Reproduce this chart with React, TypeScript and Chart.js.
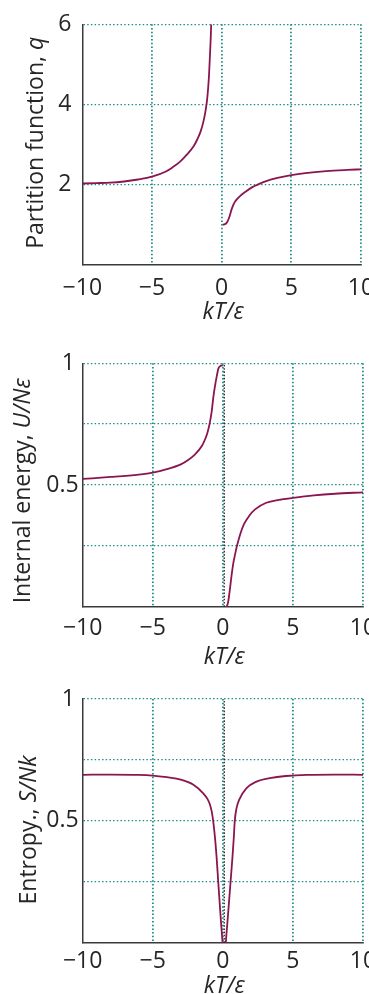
import React, { useEffect, useRef } from 'react';
import { Chart, registerables } from 'chart.js';

Chart.register(...registerables);

const FONT = '"Open Sans", "Liberation Sans", sans-serif';
const TEAL = '#1f8f87';
const CURVE = '#8a1550';
const AXIS = '#3a3a3a';
const TEXT = '#262626';
const TICK_SIZE = 23;
const TITLE_SIZE = 23;

// ---- shared x axis ----
const xTickValues = [-10, -5, 0, 5, 10];
const xTickLabels = ['\u221210', '\u22125', '0', '5', '10'];
const xTitle = [{ text: 'kT/\u03b5', italic: true }];

// ---- panel 1: partition function ----
const qTickValues = [0, 2, 4, 6];
const qTickLabels = ['', '2', '4', '6'];
const qNegX = [-10, -9, -8, -7, -6, -5, -4, -3.5, -3, -2.5, -2, -1.75, -1.5, -1.3, -1.15, -1.05, -0.97, -0.9, -0.84, -0.79, -0.75];
const qNegY = [2.02, 2.03, 2.04, 2.07, 2.12, 2.19, 2.32, 2.43, 2.56, 2.74, 2.96, 3.12, 3.33, 3.58, 3.85, 4.1, 4.4, 4.77, 5.22, 5.6, 6.0];
const qPosX = [0.07, 0.2, 0.32, 0.42, 0.52, 0.62, 0.72, 0.83, 0.95, 1.1, 1.3, 1.7, 2.2, 2.7, 3.2, 4.0, 5.0, 6.0, 7.5, 9.0, 10.0];
const qPosY = [0.99, 1.0, 1.02, 1.07, 1.15, 1.26, 1.38, 1.48, 1.56, 1.63, 1.7, 1.81, 1.93, 2.01, 2.08, 2.16, 2.23, 2.28, 2.33, 2.36, 2.375];
const qTitle = [{ text: 'Partition function, ', italic: false }, { text: 'q', italic: true }];

// ---- panel 2: internal energy ----
const fracTickValues = [0, 0.25, 0.5, 0.75, 1];
const fracTickLabels = ['', '', '0.5', '', '1\u2009'];
const uNegX = [-10, -8, -6, -5, -4, -3, -2.5, -2, -1.5, -1.25, -1.1, -0.95, -0.8, -0.68, -0.55, -0.44, -0.32, -0.15, 0.0];
const uNegY = [0.525, 0.533, 0.543, 0.551, 0.565, 0.585, 0.602, 0.625, 0.66, 0.69, 0.715, 0.75, 0.8, 0.86, 0.91, 0.945, 0.978, 0.99, 0.992];
const uPosX = [0.28, 0.38, 0.5, 0.62, 0.75, 0.88, 1.0, 1.25, 1.5, 1.9, 2.3, 3.1, 4.0, 5.0, 6.5, 8.0, 10.0];
const uPosY = [0.0, 0.02, 0.07, 0.128, 0.18, 0.217, 0.248, 0.3, 0.338, 0.375, 0.4, 0.427, 0.439, 0.447, 0.457, 0.464, 0.47];
const uTitle = [{ text: 'Internal energy, ', italic: false }, { text: 'U/N\u03b5', italic: true }];

// ---- panel 3: entropy ----
const sNegX = [-10, -8, -6, -5, -4, -3, -2.1, -1.4, -1.1, -0.93, -0.8, -0.69, -0.56, -0.45, -0.33, -0.16, -0.06, -0.02];
const sNegY = [0.689, 0.69, 0.689, 0.686, 0.679, 0.669, 0.648, 0.613, 0.59, 0.568, 0.54, 0.5, 0.43, 0.354, 0.25, 0.108, 0.03, 0.0];
const sPosX = [0.21, 0.25, 0.36, 0.55, 0.69, 0.78, 0.85, 0.97, 1.16, 1.69, 2.4, 3.35, 4.5, 6, 8, 10];
const sPosY = [0.0, 0.03, 0.108, 0.25, 0.354, 0.43, 0.5, 0.55, 0.586, 0.634, 0.661, 0.675, 0.684, 0.689, 0.69, 0.689];
const sTitle = [{ text: 'Entropy., ', italic: false }, { text: 'S/Nk', italic: true }];

// dotted marker line just right of zero (panels 2 and 3)
const zeroLineX = [0.1, 0.1];
const zeroLineY = [0, 1];

type Seg = { text: string; italic: boolean };

function drawSegs(ctx: CanvasRenderingContext2D, segs: Seg[], cx: number, y: number) {
  const fonts = segs.map(s => `${s.italic ? 'italic ' : ''}${TITLE_SIZE}px ${FONT}`);
  const widths = segs.map((s, i) => { ctx.font = fonts[i]; return ctx.measureText(s.text).width; });
  const total = widths.reduce((a, b) => a + b, 0);
  let x = cx - total / 2;
  segs.forEach((s, i) => {
    ctx.font = fonts[i];
    ctx.fillText(s.text, x, y);
    x += widths[i];
  });
}

function curve(xs: number[], ys: number[], color = CURVE, width = 1.8, dash: number[] = []) {
  return {
    data: xs.map((x, i) => ({ x, y: ys[i] })),
    showLine: true,
    borderColor: color,
    borderWidth: width,
    borderDash: dash,
    pointRadius: 0,
    cubicInterpolationMode: 'monotone',
    fill: false,
  };
}

type Panel = {
  top: number; height: number;
  padTop: number; padRight: number; yWidth: number; xHeight: number;
  xTickPad: number; yTickPad: number;
  yMax: number; yStep: number; yValues: number[]; yLabels: string[];
  datasets: any[];
  yTitle: Seg[]; yTitleX: number; yTitleY: number;
  xTitleY: number; xTitleDx: number;
};

const panels: Panel[] = [
  {
    top: 0, height: 330, padTop: 24.3, padRight: 8, yWidth: 82.3, xHeight: 65.7,
    xTickPad: 10, yTickPad: 11, yMax: 6, yStep: 2, yValues: qTickValues, yLabels: qTickLabels,
    datasets: [curve(qNegX, qNegY), curve(qPosX, qPosY)],
    yTitle: qTitle, yTitleX: 43.3, yTitleY: 142.8, xTitleY: 319, xTitleDx: 1.5,
  },
  {
    top: 330, height: 345, padTop: 33.3, padRight: 6, yWidth: 82.7, xHeight: 68.3,
    xTickPad: 7.6, yTickPad: 4, yMax: 1, yStep: 0.25, yValues: fracTickValues, yLabels: fracTickLabels,
    datasets: [curve(zeroLineX, zeroLineY, '#222', 1.3, [1.6, 1.6]), curve(uNegX, uNegY), curve(uPosX, uPosY)],
    yTitle: uTitle, yTitleX: 29.7, yTitleY: 160.8, xTitleY: 334, xTitleDx: 1.5,
  },
  {
    top: 660, height: 334, padTop: 39, padRight: 6, yWidth: 82.7, xHeight: 51.3,
    xTickPad: 5, yTickPad: 4, yMax: 1, yStep: 0.25, yValues: fracTickValues, yLabels: fracTickLabels,
    datasets: [curve(zeroLineX, zeroLineY, '#222', 1.3, [1.6, 1.6]), curve(sNegX, sNegY), curve(sPosX, sPosY)],
    yTitle: sTitle, yTitleX: 36.4, yTitleY: 170, xTitleY: 333, xTitleDx: 1.5,
  },
];

function labelFor(values: number[], labels: string[], v: number) {
  const i = values.findIndex(t => Math.abs(t - v) < 1e-9);
  return i >= 0 ? labels[i] : '';
}

function makeConfig(p: Panel): any {
  const titlePlugin = {
    id: 'axisTitles',
    afterDraw(chart: any) {
      const ctx: CanvasRenderingContext2D = chart.ctx;
      const ca = chart.chartArea;
      ctx.save();
      ctx.fillStyle = TEXT;
      ctx.textBaseline = 'alphabetic';
      ctx.textAlign = 'left';
      drawSegs(ctx, xTitle, (ca.left + ca.right) / 2 + p.xTitleDx, p.xTitleY);
      ctx.translate(p.yTitleX, p.yTitleY);
      ctx.rotate(-Math.PI / 2);
      drawSegs(ctx, p.yTitle, 0, 0);
      ctx.restore();
    },
  };
  const tickFont = { family: FONT, size: TICK_SIZE };
  return {
    type: 'scatter',
    data: { datasets: p.datasets },
    options: {
      animation: false,
      responsive: false,
      maintainAspectRatio: false,
      events: [],
      layout: { padding: { left: 0, right: p.padRight, top: p.padTop, bottom: 0 } },
      plugins: { legend: { display: false }, tooltip: { enabled: false } },
      scales: {
        x: {
          type: 'linear', min: -10, max: 10,
          afterFit: (s: any) => { s.height = p.xHeight; s.paddingLeft = 0; s.paddingRight = 0; },
          ticks: {
            stepSize: 5, padding: p.xTickPad, font: tickFont, color: TEXT, maxRotation: 0, autoSkip: false,
            callback: (v: number) => labelFor(xTickValues, xTickLabels, v),
          },
          grid: {
            drawTicks: false,
            color: (c: any) => (c.tick && c.tick.value === -10 ? 'rgba(0,0,0,0)' : TEAL),
            lineWidth: 1.8,
          },
          border: { display: true, color: AXIS, width: 1.5, dash: [1.5, 2.2] },
        },
        y: {
          type: 'linear', min: 0, max: p.yMax,
          afterFit: (s: any) => { s.width = p.yWidth; s.paddingTop = 0; s.paddingBottom = 0; },
          ticks: {
            stepSize: p.yStep, padding: p.yTickPad, font: tickFont, color: TEXT, autoSkip: false,
            callback: (v: number) => labelFor(p.yValues, p.yLabels, v),
          },
          grid: {
            drawTicks: false,
            color: (c: any) => (c.tick && c.tick.value === 0 ? 'rgba(0,0,0,0)' : TEAL),
            lineWidth: 1.3,
          },
          border: { display: true, color: AXIS, width: 1.5, dash: [1.5, 2.2] },
        },
      },
    },
    plugins: [titlePlugin],
  };
}

function PanelChart({ p }: { p: Panel }) {
  const ref = useRef<HTMLCanvasElement | null>(null);
  useEffect(() => {
    if (!ref.current) return;
    const chart = new Chart(ref.current, makeConfig(p));
    return () => chart.destroy();
  }, [p]);
  return (
    <canvas
      ref={ref}
      width={369}
      height={p.height}
      style={{ position: 'absolute', left: 0, top: p.top, width: 369, height: p.height }}
    />
  );
}

export default function App() {
  return (
    <div style={{ position: 'absolute', left: 0, top: 0, width: 369, height: 994, background: '#fff', overflow: 'hidden' }}>
      {panels.map((p, i) => (
        <PanelChart key={i} p={p} />
      ))}
    </div>
  );
}
